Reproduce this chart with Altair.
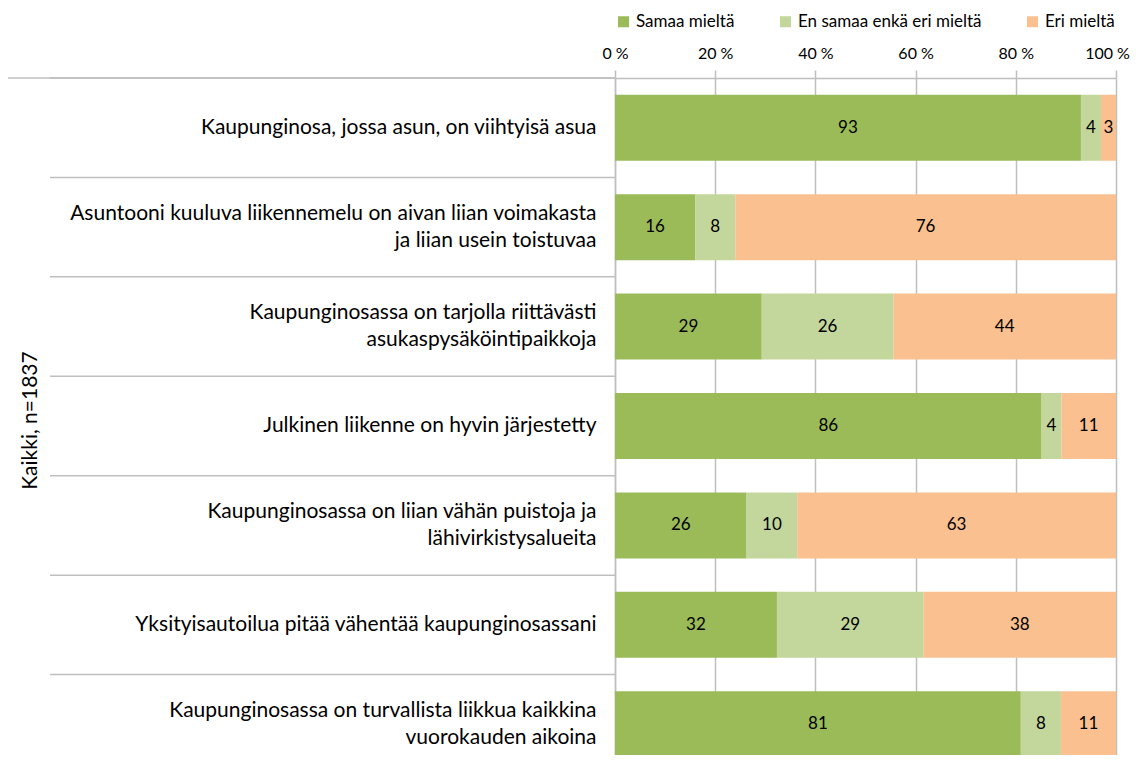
import altair as alt
import pandas as pd

questions = [
    "Kaupunginosa, jossa asun, on viihtyisä asua",
    "Asuntooni kuuluva liikennemelu on aivan liian voimakasta|ja liian usein toistuvaa",
    "Kaupunginosassa on tarjolla riittävästi|asukaspysäköintipaikkoja",
    "Julkinen liikenne on hyvin järjestetty",
    "Kaupunginosassa on liian vähän puistoja ja|lähivirkistysalueita",
    "Yksityisautoilua pitää vähentää kaupunginosassani",
    "Kaupunginosassa on turvallista liikkua kaikkina|vuorokauden aikoina",
]
categories = ["Samaa mieltä", "En samaa enkä eri mieltä", "Eri mieltä"]
agree = [93, 16, 29, 86, 26, 32, 81]
neutral = [4, 8, 26, 4, 10, 29, 8]
disagree = [3, 76, 44, 11, 63, 38, 11]
colors = ["#9BBB59", "#C3D69B", "#FAC090"]
x_ticks = [0, 0.2, 0.4, 0.6, 0.8, 1]

rows = []
for i, q in enumerate(questions):
    vals = [agree[i], neutral[i], disagree[i]]
    total = sum(vals)
    cum = 0
    for j, (c, v) in enumerate(zip(categories, vals)):
        rows.append(dict(q=q, cat=c, order=j, v=v,
                         start=cum / total, end=(cum + v) / total))
        cum += v
df = pd.DataFrame(rows)
df["mid"] = (df["start"] + df["end"]) / 2

FONT = "Lato"
GRAY = "#BFBFBF"

y = alt.Y(
    "q:N", sort=questions, title="Kaikki, n=1837",
    scale=alt.Scale(range=[0, 696], paddingInner=0.336, paddingOuter=0.168),
    axis=alt.Axis(
        labelExpr="split(datum.label, '|')", labelFont=FONT, labelFontSize=21,
        labelColor="#000", labelLineHeight=27, labelPadding=19, labelLimit=700,
        labelOffset={"condition": {"test": "indexof(datum.value, '|') >= 0", "value": -13.5},
                     "value": 0},
        ticks=False, domainColor=GRAY, domainWidth=1.5,
        titleFont=FONT, titleFontSize=21, titleFontWeight="normal", titleColor="#000",
        titleX=-585, titleY=342, titleAngle=270, titleBaseline="middle", titleAlign="center",
    ),
)

xscale = alt.Scale(domain=[0, 1], nice=False)
xaxis = alt.Axis(
    orient="top", values=x_ticks, labelExpr="format(datum.value*100, 'd') + ' %'",
    grid=True, gridColor=GRAY, gridWidth=1.5, domainColor=GRAY, domainWidth=1.5,
    tickColor=GRAY, tickWidth=1.5, tickSize=8, labelFont=FONT, labelFontSize=16,
    labelColor="#000", labelPadding=9, labelFlush=False, title=None,
    labelOffset={"condition": {"test": "datum.value >= 1", "value": -9}, "value": 0},
)

color = alt.Color(
    "cat:N", scale=alt.Scale(domain=categories, range=colors),
    legend=alt.Legend(
        title=None, orient="none", legendX=0, legendY=-65, direction="horizontal",
        symbolType="square", symbolSize=121, symbolStrokeWidth=0,
        labelFont=FONT, labelFontSize=17, labelColor="#000", columnPadding=42,
        labelOffset=4, labelLimit=400,
    ),
)

base = alt.Chart(df).encode(y=y)

bars = base.mark_bar().encode(
    x=alt.X("start:Q", scale=xscale, axis=xaxis, title=None),
    x2="end:Q",
    color=color,
)

text = base.mark_text(font=FONT, fontSize=17, color="#000").encode(
    x=alt.X("mid:Q", scale=xscale, title=None),
    text="v:Q",
)

seps = base.transform_filter("datum.order == 0").mark_rule(
    color=GRAY, strokeWidth=1.5, yOffset=-49.7
).encode(x=alt.value(-565), x2=alt.value(0))

top = alt.Chart(pd.DataFrame({"a": [0]})).mark_rule(color=GRAY, strokeWidth=1.5).encode(
    y=alt.value(0), x=alt.value(-607), x2=alt.value(0)
)

chart = alt.layer(bars, text, seps, top).properties(
    width=501, height=677,
    autosize=alt.AutoSizeParams(type="none"),
    padding={"left": 607, "top": 70, "right": 17, "bottom": 0},
    background="white",
).configure_view(stroke=None)

chart.save("out.html", embed_options={"renderer": "svg", "actions": False})
